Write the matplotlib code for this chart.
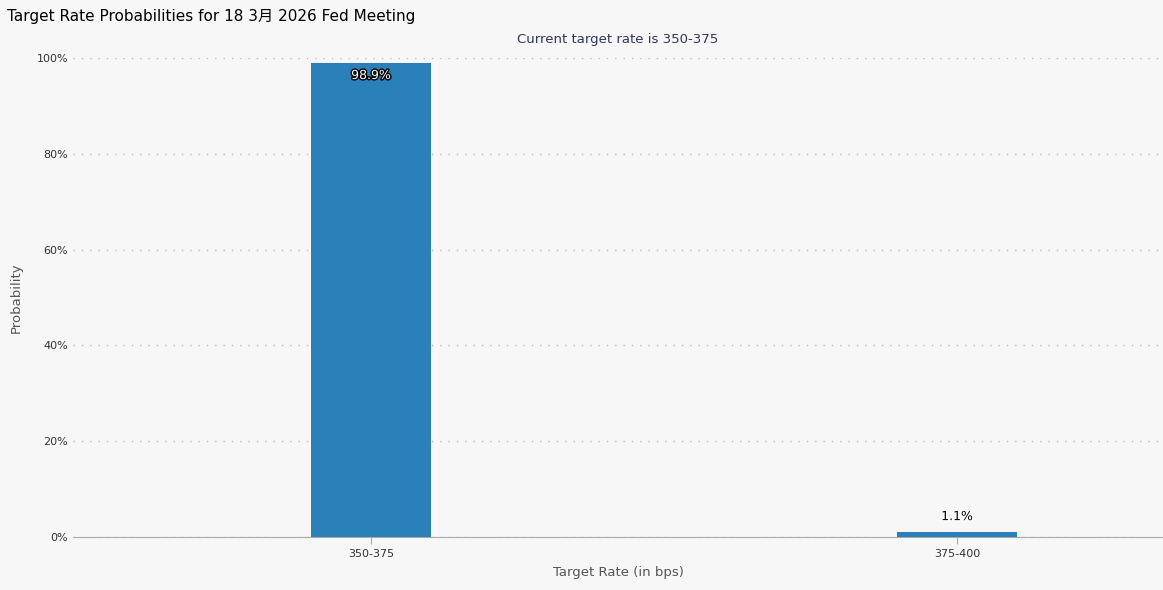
import matplotlib.pyplot as plt
import matplotlib.patheffects as pe

plt.rcParams['font.family'] = ['DejaVu Sans', 'Noto Sans CJK SC']

categories = ["350-375", "375-400"]
probs = [98.9, 1.1]
yticks = [0, 20, 40, 60, 80, 100]
ytick_labels = ["0%", "20%", "40%", "60%", "80%", "100%"]

fig = plt.figure(figsize=(11.63, 5.9), dpi=100, facecolor="#f7f7f7")
ax = fig.add_axes([73 / 1163, 53 / 590, 1090 / 1163, 479 / 590], facecolor="#f7f7f7")

xs = list(range(len(categories)))
ax.bar(xs, probs, width=0.205, color="#2a81b9", zorder=3)
ax.set_xlim(-0.5085, 1.3515)
ax.set_ylim(0, 100)
ax.set_xticks(xs)
ax.set_xticklabels(categories, fontsize=8, color="#333333")
ax.set_yticks(yticks)
ax.set_yticklabels(ytick_labels, fontsize=8, color="#333333")
ax.grid(axis="y", linestyle=(0, (1, 5)), color="#bbbbbb", linewidth=1)
for s in ["top", "right", "left"]:
    ax.spines[s].set_visible(False)
ax.spines["bottom"].set_color("#aaaaaa")
ax.tick_params(axis="y", length=0)
ax.tick_params(axis="x", length=5, color="#aaaaaa")

for x, p in zip(xs, probs):
    if p > 10:
        ax.text(x, p - 1.2, f"{p}%", ha="center", va="top", fontsize=9, color="white",
                path_effects=[pe.withStroke(linewidth=2, foreground="black")], zorder=4)
    else:
        ax.text(x, p + 1.8, f"{p}%", ha="center", va="bottom", fontsize=9, color="black",
                path_effects=[pe.withStroke(linewidth=2, foreground="white")], zorder=4)

ax.set_xlabel("Target Rate (in bps)", fontsize=9.5, color="#555555", labelpad=5)
ax.set_ylabel("Probability", fontsize=9.5, color="#555555", labelpad=10)
fig.text(7 / 1163, 1 - 16 / 590, "Target Rate Probabilities for 18 3月 2026 Fed Meeting",
         fontsize=11, color="black", va="center", ha="left")
fig.text((73 + 1090 / 2) / 1163, 1 - 40 / 590, "Current target rate is 350-375",
         fontsize=9.5, color="#333366", ha="center", va="center")

fig.savefig("out.png", dpi=100, facecolor=fig.get_facecolor())
